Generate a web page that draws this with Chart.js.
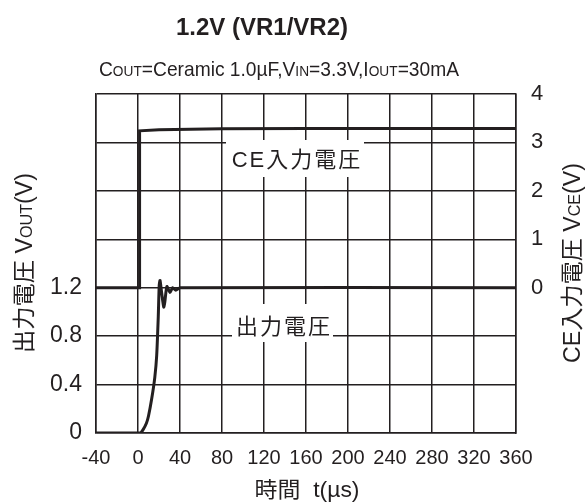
<!DOCTYPE html>
<html>
<head>
<meta charset="utf-8">
<script src="https://cdn.jsdelivr.net/npm/chart.js@4"></script>
<style>
  html, body { margin: 0; padding: 0; background: #fff; }
  canvas { display: block; }
</style>
</head>
<body>
<canvas id="chart" width="585" height="502"></canvas>
<script>
// time axis (µs)
const xTicks = [-40, 0, 40, 80, 120, 160, 200, 240, 280, 320, 360];

// CE input voltage (right axis, V)
const tCE = [-40, 1.5, 1.5, 20, 80, 160, 240, 360];
const vCE = [0, 0, 3.24, 3.26, 3.28, 3.29, 3.29, 3.29];

// output voltage (left axis, V)
const tOut = [-40, 2, 5, 8, 10, 13, 16, 17.8, 19.3, 20.2, 21, 22.5, 24.5, 25.5, 27.5, 30.5, 33, 36, 40, 360];
const vOut = [0, 0, 0.03, 0.08, 0.14, 0.28, 0.46, 0.64, 0.96, 1.22, 1.26, 1.16, 1.04, 1.08, 1.21, 1.16, 1.2, 1.18, 1.2, 1.2];

const leftLabels = ["0", "0.4", "0.8", "1.2"];
const rightLabels = ["0", "1", "2", "3", "4"];

const FONT = '"Liberation Sans", Arial, "Noto Sans CJK JP", sans-serif';
const INK = "#231f20";

// draw mixed-size text centred on (x, y) baseline, optionally rotated / squeezed to a width
function rich(ctx, segs, x, y, rot, spacing, fit) {
  ctx.save();
  ctx.translate(x, y);
  if (rot) ctx.rotate(rot);
  ctx.textAlign = "left";
  ctx.textBaseline = "alphabetic";
  ctx.letterSpacing = (spacing || 0) + "px";
  let w = 0;
  segs.forEach(s => {
    ctx.font = (s.b ? "bold " : "") + s.s + "px " + FONT;
    w += ctx.measureText(s.t).width;
  });
  if (fit) { ctx.scale(fit / w, 1); }
  let cx = -w / 2;
  ctx.fillStyle = INK;
  segs.forEach(s => {
    ctx.font = (s.b ? "bold " : "") + s.s + "px " + FONT;
    ctx.fillText(s.t, cx, 0);
    cx += ctx.measureText(s.t).width;
  });
  ctx.restore();
}

const textPlugin = {
  id: "texts",
  beforeDatasetsDraw(chart) {
    const ctx = chart.ctx;
    // boxed curve labels
    ctx.save();
    ctx.fillStyle = "#fff";
    ctx.fillRect(226, 140, 138, 37);
    ctx.fillRect(232, 304, 101, 38);
    ctx.restore();
    rich(ctx, [{ t: "CE入力電圧", s: 22 }], 297, 167, 0, 2);
    rich(ctx, [{ t: "出力電圧", s: 22 }], 284, 334, 0, 2);
  },
  afterDraw(chart) {
    const ctx = chart.ctx;
    rich(ctx, [{ t: "1.2V (VR1/VR2)", s: 24, b: true }], 262, 35);
    rich(ctx, [
      { t: "C", s: 21 }, { t: "OUT", s: 15 }, { t: "=Ceramic 1.0µF,V", s: 21 },
      { t: "IN", s: 15 }, { t: "=3.3V,I", s: 21 }, { t: "OUT", s: 15 }, { t: "=30mA", s: 21 }
    ], 279, 76, 0, 0, 360);
    rich(ctx, [{ t: "出力電圧 V", s: 23 }, { t: "OUT", s: 16 }, { t: "(V)", s: 23 }], 32, 263, -Math.PI / 2, 0, 180);
    rich(ctx, [{ t: "CE入力電圧 V", s: 23 }, { t: "CE", s: 16 }, { t: "(V)", s: 23 }], 580, 263, -Math.PI / 2, 0, 200);
    rich(ctx, [{ t: "時間  t(µs)", s: 22 }], 307, 497, 0, 0, 105);
  }
};

const toPts = (xs, ys) => xs.map((x, i) => ({ x: x, y: ys[i] }));

new Chart(document.getElementById("chart"), {
  type: "line",
  data: {
    datasets: [
      {
        label: "CE入力電圧",
        data: toPts(tCE, vCE),
        yAxisID: "yR",
        borderColor: INK,
        borderWidth: 3,
        pointRadius: 0,
        tension: 0
      },
      {
        label: "出力電圧",
        data: toPts(tOut, vOut),
        yAxisID: "yL",
        borderColor: INK,
        borderWidth: 3,
        pointRadius: 0,
        tension: 0.2
      }
    ]
  },
  options: {
    responsive: false,
    animation: false,
    devicePixelRatio: 1,
    layout: { padding: { top: 94, left: 0, right: 0, bottom: 0 } },
    plugins: { legend: { display: false }, tooltip: { enabled: false }, title: { display: false } },
    scales: {
      x: {
        type: "linear",
        min: xTicks[0],
        max: xTicks[xTicks.length - 1],
        afterBuildTicks: s => { s.ticks = xTicks.map(v => ({ value: v })); },
        afterFit: s => { s.height = 69; },
        grid: { color: INK, lineWidth: 1.5, drawTicks: false },
        border: { color: INK, width: 1.5 },
        ticks: { color: INK, font: { family: FONT, size: 20 }, padding: 13, maxRotation: 0, autoSkip: false }
      },
      yL: {
        position: "left",
        min: 0,
        max: 2.8,
        afterBuildTicks: s => { s.ticks = [0, 0.4, 0.8, 1.2, 1.6, 2.0, 2.4, 2.8].map(v => ({ value: v })); },
        afterFit: s => { s.width = 96; },
        grid: { color: INK, lineWidth: 1.5, drawTicks: false },
        border: { color: INK, width: 1.5 },
        ticks: {
          color: INK, font: { family: FONT, size: 23 }, padding: 14, autoSkip: false,
          callback: (v, i) => (i < leftLabels.length ? leftLabels[i] : "")
        }
      },
      yR: {
        position: "right",
        min: -3,
        max: 4,
        afterBuildTicks: s => { s.ticks = [-3, -2, -1, 0, 1, 2, 3, 4].map(v => ({ value: v })); },
        afterFit: s => { s.width = 69; },
        grid: { display: false, drawTicks: false },
        border: { color: INK, width: 1.5 },
        ticks: {
          color: INK, font: { family: FONT, size: 22 }, padding: 15, autoSkip: false,
          callback: (v, i) => (i >= 3 ? rightLabels[i - 3] : "")
        }
      }
    }
  },
  plugins: [textPlugin]
});
</script>
</body>
</html>
